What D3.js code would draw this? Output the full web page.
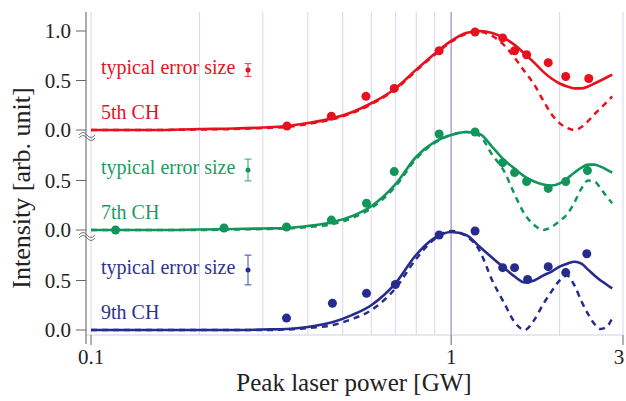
<!DOCTYPE html>
<html>
<head>
<meta charset="utf-8">
<script src="https://cdn.jsdelivr.net/npm/d3@7"></script>
<style>
  body { margin: 0; background: #fff; }
  svg { display: block; font-family: "Liberation Serif", "Times New Roman", serif; }
</style>
</head>
<body>
<div id="chart"></div>
<script>
// measured points
const x5 = [0.35, 0.465, 0.58, 0.695, 0.926, 1.165, 1.39, 1.50, 1.62, 1.86, 2.08, 2.41];
const y5 = [0.04, 0.14, 0.34, 0.42, 0.80, 0.99, 0.93, 0.80, 0.76, 0.68, 0.54, 0.52];
const x7 = [0.117, 0.234, 0.349, 0.465, 0.582, 0.695, 0.926, 1.165, 1.39, 1.50, 1.62, 1.86, 2.08, 2.39];
const y7 = [0.0, 0.02, 0.03, 0.10, 0.27, 0.59, 0.97, 0.99, 0.68, 0.58, 0.49, 0.42, 0.49, 0.60];
const x9 = [0.349, 0.468, 0.582, 0.70, 0.926, 1.165, 1.39, 1.50, 1.63, 1.86, 2.08, 2.38];
const y9 = [0.12, 0.27, 0.37, 0.46, 0.96, 1.0, 0.63, 0.63, 0.51, 0.64, 0.58, 0.77];

// calculated curves (solid / dashed)
const xFit = [0.1, 0.15, 0.2, 0.25, 0.3, 0.35, 0.4, 0.47, 0.53, 0.6, 0.7, 0.8, 0.9, 1.0, 1.1, 1.2,
  1.3, 1.4, 1.5, 1.6, 1.7, 1.8, 1.9, 2.0, 2.1, 2.2, 2.3, 2.4, 2.5, 2.6, 2.7, 2.8];
const fit5 = [0, 0, 0.01, 0.015, 0.025, 0.04, 0.07, 0.12, 0.18, 0.27, 0.42, 0.61, 0.77, 0.90, 0.98, 1.0,
  0.98, 0.93, 0.86, 0.77, 0.68, 0.59, 0.52, 0.47, 0.44, 0.42, 0.42, 0.44, 0.47, 0.50, 0.53, 0.56];
const dash5 = [0, 0, 0.005, 0.01, 0.02, 0.03, 0.06, 0.11, 0.17, 0.26, 0.41, 0.60, 0.76, 0.89, 0.97, 0.99,
  0.95, 0.86, 0.73, 0.59, 0.46, 0.30, 0.16, 0.07, 0.02, 0.0, 0.03, 0.09, 0.16, 0.22, 0.28, 0.34];
const fit7 = [0, 0, 0.005, 0.01, 0.015, 0.02, 0.04, 0.08, 0.14, 0.24, 0.46, 0.74, 0.89, 0.96, 0.99, 0.97,
  0.84, 0.71, 0.62, 0.54, 0.49, 0.46, 0.45, 0.47, 0.52, 0.58, 0.63, 0.66, 0.66, 0.64, 0.61, 0.58];
const dash7 = [0, 0, 0, 0.005, 0.01, 0.015, 0.03, 0.06, 0.12, 0.22, 0.44, 0.72, 0.88, 0.96, 0.99, 0.95,
  0.76, 0.60, 0.36, 0.16, 0.05, 0.0, 0.03, 0.09, 0.16, 0.28, 0.42, 0.50, 0.49, 0.42, 0.34, 0.27];
const fit9 = [0, 0, 0, 0, 0.005, 0.01, 0.03, 0.08, 0.15, 0.25, 0.47, 0.76, 0.93, 0.99, 0.96, 0.84,
  0.73, 0.63, 0.54, 0.48, 0.50, 0.55, 0.59, 0.64, 0.67, 0.69, 0.67, 0.61, 0.55, 0.50, 0.46, 0.42];
const dash9 = [0, 0, 0, 0, 0, 0.005, 0.02, 0.05, 0.11, 0.20, 0.42, 0.72, 0.92, 1.0, 0.95, 0.80,
  0.50, 0.28, 0.08, 0.0, 0.10, 0.26, 0.39, 0.50, 0.55, 0.45, 0.29, 0.16, 0.06, 0.01, 0.03, 0.12];

const channels = ["5th CH", "7th CH", "9th CH"];
const errSize = [0.065, 0.11, 0.15];
const yTicksTop = [0, 0.5, 1.0];
const yTicksLower = [0, 0.5];
const xTicksMajor = [0.1, 1, 3];
const xGrid = [0.1, 0.2, 0.3, 0.4, 0.5, 0.6, 0.7, 0.8, 0.9, 1, 2, 3];

const colors = ["#e8101e", "#11955a", "#262b8e"];
const textColors = ["#e8101e", "#1c9c5e", "#2e3192"];

const panels = [
  { px: x5, py: y5, fit: fit5, dash: dash5 },
  { px: x7, py: y7, fit: fit7, dash: dash7 },
  { px: x9, py: y9, fit: fit9, dash: dash9 }
];

const W = 626, H = 401;
const svg = d3.select("#chart").append("svg").attr("width", W).attr("height", H);

const x = d3.scaleLog().domain([0.1, 3]).range([91, 623]);
const AXIS_X = 86, TOP = 12, BOTTOM = 335;

// vertical gridlines
svg.append("g")
  .selectAll("line")
  .data(xGrid)
  .join("line")
  .attr("x1", (d) => x(d)).attr("x2", (d) => x(d))
  .attr("y1", TOP).attr("y2", BOTTOM)
  .attr("stroke", (d) => (d === 1 ? "#a4a4d4" : "#d6d6ef"))
  .attr("stroke-width", (d) => (d === 1 ? 1.5 : 1));

// x axis line + ticks
svg.append("line")
  .attr("x1", AXIS_X).attr("x2", 623)
  .attr("y1", BOTTOM).attr("y2", BOTTOM)
  .attr("stroke", "#d0d0e8");

const xAxisG = svg.append("g");
xAxisG.selectAll("line")
  .data(xTicksMajor)
  .join("line")
  .attr("x1", (d) => x(d)).attr("x2", (d) => x(d))
  .attr("y1", BOTTOM).attr("y2", BOTTOM + 10)
  .attr("stroke", "#666");
xAxisG.selectAll("text")
  .data(xTicksMajor)
  .join("text")
  .attr("x", (d) => Math.min(x(d), 619))
  .attr("y", 364)
  .attr("text-anchor", "middle")
  .attr("font-size", "21px")
  .attr("fill", "#222")
  .text((d) => d3.format("~g")(d));

// y axis line
svg.append("line")
  .attr("x1", AXIS_X).attr("x2", AXIS_X)
  .attr("y1", TOP).attr("y2", 344)
  .attr("stroke", "#777").attr("stroke-width", 1.2);

const line = d3.line().curve(d3.curveMonotoneX);

panels.forEach((p, i) => {
  const base = 130 + 100 * i;
  const y = d3.scaleLinear().domain([0, 1]).range([base, base - 99]);
  const g = svg.append("g");
  const c = colors[i];
  const ticks = i === 0 ? yTicksTop : yTicksLower;

  // y ticks
  g.selectAll(".tick")
    .data(ticks)
    .join("line")
    .attr("class", "tick")
    .attr("x1", AXIS_X - 10).attr("x2", AXIS_X)
    .attr("y1", (d) => y(d)).attr("y2", (d) => y(d))
    .attr("stroke", "#666");
  g.selectAll(".tlabel")
    .data(ticks)
    .join("text")
    .attr("class", "tlabel")
    .attr("x", 71)
    .attr("y", (d) => y(d) + 7)
    .attr("text-anchor", "end")
    .attr("font-size", "21px")
    .attr("fill", "#222")
    .text((d) => d.toFixed(1));

  // axis break marks
  if (i < 2) {
    [0, 3].forEach((o) => {
      g.append("path")
        .attr("d", `M79,${base + 5 + o} q4,-5 8,0 t8,0`)
        .attr("fill", "none")
        .attr("stroke", "#777")
        .attr("stroke-width", 1);
    });
  }

  // curves
  g.append("path")
    .attr("d", line(xFit.map((v, k) => [x(v), y(p.dash[k])])))
    .attr("fill", "none")
    .attr("stroke", c)
    .attr("stroke-width", 2.5)
    .attr("stroke-dasharray", "6,5");
  g.append("path")
    .attr("d", line(xFit.map((v, k) => [x(v), y(p.fit[k])])))
    .attr("fill", "none")
    .attr("stroke", c)
    .attr("stroke-width", 2.6);

  // points
  g.selectAll(".pt")
    .data(p.px.map((v, k) => [v, p.py[k]]))
    .join("circle")
    .attr("class", "pt")
    .attr("cx", (d) => x(d[0]))
    .attr("cy", (d) => y(d[1]))
    .attr("r", 4.5)
    .attr("fill", c);

  // legend
  g.append("text")
    .attr("x", 101).attr("y", base - 56)
    .attr("font-size", "20px")
    .attr("fill", textColors[i])
    .text("typical error size");
  g.append("text")
    .attr("x", 101).attr("y", base - 11)
    .attr("font-size", "20px")
    .attr("fill", textColors[i])
    .text(channels[i]);

  // error bar sample
  const ec = base - 60, eh = errSize[i] * 99;
  const eb = g.append("g").attr("stroke", textColors[i]).attr("stroke-opacity", 0.75).attr("stroke-width", 1.2);
  eb.append("line").attr("x1", 248).attr("x2", 248).attr("y1", ec - eh).attr("y2", ec + eh);
  eb.append("line").attr("x1", 244.5).attr("x2", 251.5).attr("y1", ec - eh).attr("y2", ec - eh);
  eb.append("line").attr("x1", 244.5).attr("x2", 251.5).attr("y1", ec + eh).attr("y2", ec + eh);
  g.append("circle").attr("cx", 248).attr("cy", ec).attr("r", 2.5).attr("fill", c);
});

// axis titles
svg.append("text")
  .attr("transform", "translate(30,188) rotate(-90)")
  .attr("text-anchor", "middle")
  .attr("font-size", "26px")
  .attr("fill", "#222")
  .text("Intensity [arb. unit]");

svg.append("text")
  .attr("x", 354).attr("y", 391)
  .attr("text-anchor", "middle")
  .attr("font-size", "25px")
  .attr("fill", "#222")
  .text("Peak laser power [GW]");
</script>
</body>
</html>
